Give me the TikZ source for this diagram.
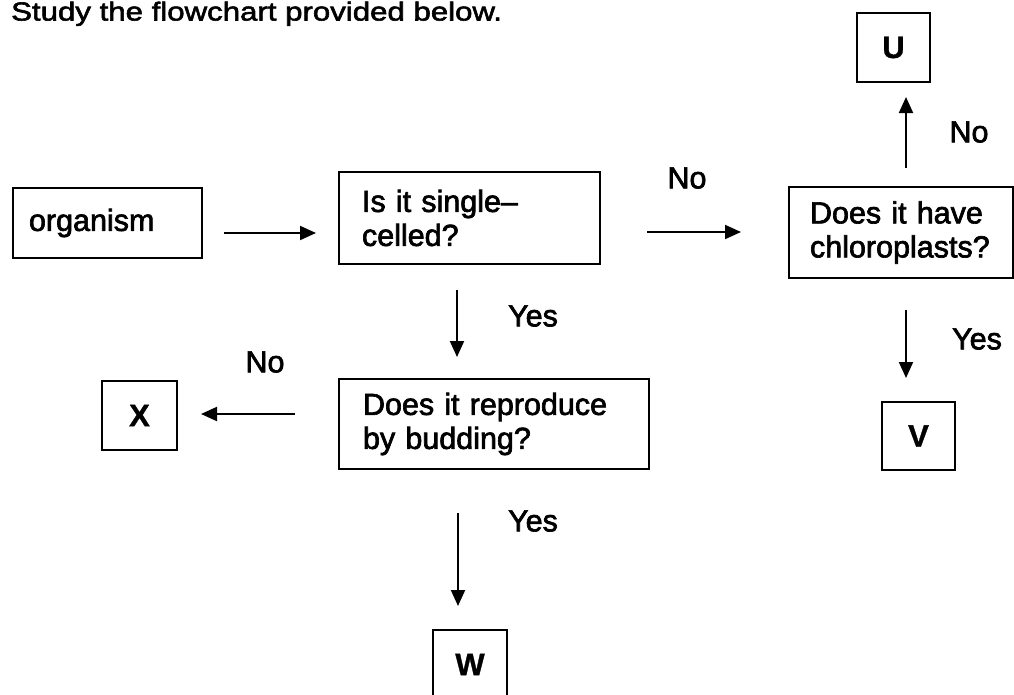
\documentclass[tikz,border=0pt]{standalone}
\usepackage{fontspec}
\setmainfont{Liberation Sans}
\newfontfamily\dgfont{Liberation Sans}[FakeBold=2.2]
\newfontfamily\dgtitlefont{Liberation Sans}[FakeBold=2.2,FakeStretch=1.2]
\newfontfamily\dgbold{Liberation Sans Bold}[FakeBold=1]
\newcommand\dgtxt{\dgfont\fontsize{30.5}{34}\selectfont}
\newcommand\dgletter{\dgbold\fontsize{31}{34}\selectfont}
\usetikzlibrary{arrows.meta}
\begin{document}
\begin{tikzpicture}[x=1pt,y=-1pt,
  box/.style={draw, line width=2pt, rectangle, inner ysep=0pt, align=left, font=\dgtxt},
  letterbox/.style={draw, line width=2pt, rectangle, inner sep=0pt, font=\dgletter},
  arr/.style={line width=2pt, -{Triangle[length=16pt,width=14pt]}},
  lab/.style={font=\dgtxt, inner sep=0pt}]
\useasboundingbox (0,0) rectangle (1014,694);
\clip (0,0) rectangle (1014,694);
\fill[white] (0,0) rectangle (1014,694);

% title
\node[font=\dgtitlefont\fontsize{26}{30}\selectfont, anchor=base west, inner sep=0pt] (title) at (11,20.5) {Study the flowchart provided below.};

% boxes
\node[box, inner xsep=16pt, text width=157pt, minimum height=70pt] (org) at (107.5,223) {organism};
\node[box, inner xsep=23pt, text width=215pt, minimum height=92pt] (single) at (469.5,218) {Is it single–\\celled?};
\node[box, inner xsep=21pt, text width=182pt, minimum height=91pt] (chloro) at (901,232.5) {Does it have\\chloroplasts?};
\node[box, inner xsep=24pt, text width=262pt, minimum height=90pt] (bud) at (494,424) {Does it reproduce\\by budding?};

\node[letterbox, minimum width=73pt, minimum height=69pt] (U) at (893.5,47.5) {U};
\node[letterbox, minimum width=73pt, minimum height=68pt] (V) at (918.5,436) {V};
\node[letterbox, minimum width=75pt, minimum height=69pt] (X) at (139.5,415.5) {X};
\node[letterbox, minimum width=74pt, minimum height=69pt] (W) at (470,664.5) {W};

% connector ends
\coordinate (a1s) at (224,233);  \coordinate (a1e) at (316,233);
\coordinate (a2s) at (647,232);  \coordinate (a2e) at (741,232);
\coordinate (a3s) at (906,168);  \coordinate (a3e) at (906,97);
\coordinate (a4s) at (906,310);  \coordinate (a4e) at (906,378);
\coordinate (a5s) at (457,290);  \coordinate (a5e) at (457,357);
\coordinate (a6s) at (295,414);  \coordinate (a6e) at (201,414);
\coordinate (a7s) at (458,513);  \coordinate (a7e) at (458,606);

\draw[arr] (a1s) -- (a1e);
\draw[arr] (a2s) -- (a2e);
\draw[arr] (a3s) -- (a3e);
\draw[arr] (a4s) -- (a4e);
\draw[arr] (a5s) -- (a5e);
\draw[arr] (a6s) -- (a6e);
\draw[arr] (a7s) -- (a7e);

% labels
\node[lab] (l2) at (687,178) {No};
\node[lab] (l3) at (969,132) {No};
\node[lab] (l4) at (977,339) {Yes};
\node[lab] (l5) at (533,316) {Yes};
\node[lab] (l6) at (265,362) {No};
\node[lab] (l7) at (533,521) {Yes};
\end{tikzpicture}
\end{document}
